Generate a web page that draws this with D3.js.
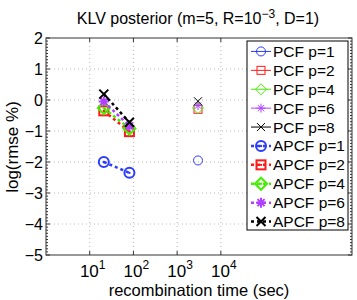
<!DOCTYPE html>
<html>
<head>
<meta charset="utf-8">
<script src="https://cdn.jsdelivr.net/npm/d3@7"></script>
<style>
  body { margin: 0; background: #fff; }
  text { font-family: "Liberation Sans", Arial, sans-serif; }
</style>
</head>
<body>
<div id="chart"></div>
<script>
const W = 357, H = 300;

// data
const pValues = [1, 2, 4, 6, 8];
const colors = ["#2a3cff", "#ff1a1a", "#44ee00", "#b040ff", "#000000"];
const markers = ["circle", "square", "diamond", "star", "cross"];
const pcfTime = [3000];
const pcfRmse = [-1.95, -0.3, -0.26, -0.18, -0.04];
const apcfTime = [21, 81];
const apcfRmse = [
  [-2.0, -2.35],
  [-0.35, -1.02],
  [-0.26, -0.92],
  [-0.05, -0.84],
  [0.19, -0.72]
];
const xTicks = [1, 2, 3, 4];   // exponents
const yTicks = [-5, -4, -3, -2, -1, 0, 1, 2];

const svg = d3.select("#chart").append("svg")
    .attr("width", W)
    .attr("height", H);

const x = d3.scaleLog().domain([1, 1e7]).range([46, 352]);
const y = d3.scaleLinear().domain([-5, 2]).range([255, 38]);

// grid
svg.append("g").selectAll("line")
   .data(yTicks.filter(d => d > -5 && d < 2))
   .join("line")
   .attr("x1", x.range()[0]).attr("x2", x.range()[1])
   .attr("y1", d => y(d)).attr("y2", d => y(d))
   .attr("stroke", "#b8b8b8").attr("stroke-dasharray", "1,3");
svg.append("g").selectAll("line")
   .data(xTicks)
   .join("line")
   .attr("x1", d => x(Math.pow(10, d))).attr("x2", d => x(Math.pow(10, d)))
   .attr("y1", y.range()[0]).attr("y2", y.range()[1])
   .attr("stroke", "#b8b8b8").attr("stroke-dasharray", "1,3");

// ticks
let ax = svg.append("g").attr("stroke", "#333");
for (let v = -5; v <= 2.001; v += 0.1) {
    let major = Math.abs(v - Math.round(v)) < 1e-6;
    let len = major ? 4 : 2;
    ax.append("line").attr("x1", x.range()[0]).attr("x2", x.range()[0] + len)
      .attr("y1", y(v)).attr("y2", y(v));
    ax.append("line").attr("x1", x.range()[1]).attr("x2", x.range()[1] - len)
      .attr("y1", y(v)).attr("y2", y(v));
}
xTicks.forEach(e => {
    let px = x(Math.pow(10, e));
    ax.append("line").attr("x1", px).attr("x2", px).attr("y1", y.range()[0]).attr("y2", y.range()[0] - 4);
    ax.append("line").attr("x1", px).attr("x2", px).attr("y1", y.range()[1]).attr("y2", y.range()[1] + 4);
});

svg.append("rect")
   .attr("x", x.range()[0]).attr("y", y.range()[1])
   .attr("width", x.range()[1] - x.range()[0])
   .attr("height", y.range()[0] - y.range()[1])
   .attr("fill", "none").attr("stroke", "#333");

// tick labels
svg.append("g").selectAll("text")
   .data(yTicks)
   .join("text")
   .attr("x", 43).attr("y", d => y(d) + 6)
   .attr("text-anchor", "end")
   .attr("font-size", 16)
   .text(d => d < 0 ? "\u2212" + Math.abs(d) : d);

let xl = svg.append("g").selectAll("text")
   .data(xTicks)
   .join("text")
   .attr("x", d => x(Math.pow(10, d)) + 3).attr("y", 277)
   .attr("text-anchor", "middle")
   .attr("font-size", 17);
xl.append("tspan").text("10");
xl.append("tspan").attr("dy", -8).attr("font-size", 12).text(d => d);

// titles
let title = svg.append("text")
   .attr("x", 198).attr("y", 24)
   .attr("text-anchor", "middle")
   .attr("font-size", 16);
title.append("tspan").text("KLV posterior (m=5, R=10");
title.append("tspan").attr("dy", -6).attr("font-size", 12).text("\u22123");
title.append("tspan").attr("dy", 6).text(", D=1)");

svg.append("text")
   .attr("x", 199).attr("y", 296)
   .attr("text-anchor", "middle")
   .attr("font-size", 16.5)
   .text("recombination time (sec)");

svg.append("text")
   .attr("transform", "translate(18,147) rotate(-90)")
   .attr("text-anchor", "middle")
   .attr("font-size", 17)
   .text("log(rmse %)");

// marker drawing
function drawMarker(g, type, cx, cy, color, thick) {
    let sw = thick ? 2 : 1;
    let m = g.append("g").attr("transform", `translate(${cx},${cy})`)
             .attr("stroke", color).attr("stroke-width", sw).attr("fill", "none");
    if (type === "circle") {
        m.append("circle").attr("r", thick ? 5 : 4.5);
    } else if (type === "square") {
        let s = thick ? 4.5 : 4;
        m.append("rect").attr("x", -s).attr("y", -s).attr("width", 2 * s).attr("height", 2 * s);
    } else if (type === "diamond") {
        let s = thick ? 6 : 5.5;
        m.append("path").attr("d", `M0,${-s}L${s},0L0,${s}L${-s},0Z`);
    } else if (type === "star") {
        let s = thick ? 5 : 4.5;
        m.append("path").attr("d",
            `M${-s},0L${s},0M0,${-s}L0,${s}M${-s*0.7},${-s*0.7}L${s*0.7},${s*0.7}M${-s*0.7},${s*0.7}L${s*0.7},${-s*0.7}`);
    } else if (type === "cross") {
        let s = thick ? 4.5 : 4;
        m.append("path").attr("d", `M${-s},${-s}L${s},${s}M${-s},${s}L${s},${-s}`);
    }
    if (thick && type !== "cross" && type !== "star") {
        m.append("circle").attr("r", 1.2).attr("fill", color).attr("stroke", "none");
    }
}

// APCF series
let plot = svg.append("g");
apcfRmse.forEach((vals, i) => {
    let pts = apcfTime.map((t, j) => [x(t), y(vals[j])]);
    plot.append("path")
        .attr("d", d3.line()(pts))
        .attr("stroke", colors[i]).attr("stroke-width", 2.5)
        .attr("stroke-dasharray", "3,3").attr("fill", "none");
    pts.forEach(p => drawMarker(plot, markers[i], p[0], p[1], colors[i], true));
});

// PCF series
pcfRmse.forEach((v, i) => {
    pcfTime.forEach(t => drawMarker(plot, markers[i], x(t), y(v), colors[i], false));
});

// legend
const lx = 247, ly = 41, lw = 101, lh = 189, rowH = 18.9;
let legend = svg.append("g");
legend.append("rect").attr("x", lx).attr("y", ly).attr("width", lw).attr("height", lh)
      .attr("fill", "#fff").attr("stroke", "#000");
const legendLabels = pValues.map(p => "PCF p=" + p).concat(pValues.map(p => "APCF p=" + p));
legendLabels.forEach((lab, k) => {
    let i = k % 5, thick = k >= 5;
    let cy = ly + rowH * (k + 0.5) + 1;
    let l = legend.append("line")
        .attr("x1", lx + 4).attr("x2", lx + 24)
        .attr("y1", cy).attr("y2", cy)
        .attr("stroke", colors[i]).attr("stroke-width", thick ? 2.5 : 1);
    if (thick) l.attr("stroke-dasharray", "3,3");
    drawMarker(legend, markers[i], lx + 14, cy, colors[i], thick);
    legend.append("text").attr("x", lx + 26).attr("y", cy + 5.5)
          .attr("font-size", 15.5).text(lab);
});
</script>
</body>
</html>
